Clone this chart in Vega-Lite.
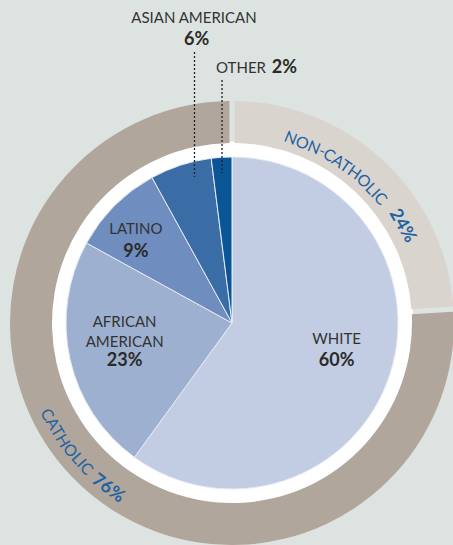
{
  "$schema": "https://vega.github.io/schema/vega-lite/v6.json",
  "width": 442,
  "height": 444,
  "autosize": "none",
  "padding": {"left": 11, "top": 101, "right": 0, "bottom": 0},
  "background": "#dde3e0",
  "config": {"view": {"stroke": null}, "font": "Lato"},
  "datasets": {
    "ring": [
      {"group": "NON-CATHOLIC", "pct": 0.24},
      {"group": "CATHOLIC", "pct": 0.76}
    ],
    "race": [
      {"group": "WHITE", "pct": 0.60},
      {"group": "AFRICAN AMERICAN", "pct": 0.23},
      {"group": "LATINO", "pct": 0.09},
      {"group": "ASIAN AMERICAN", "pct": 0.06},
      {"group": "OTHER", "pct": 0.02}
    ]
  },
  "resolve": {"scale": {"color": "independent"}},
  "layer": [
    {
      "data": {"name": "ring"},
      "mark": {"type": "arc", "outerRadius": 181, "fill": "#ffffff", "stroke": "#ffffff", "strokeWidth": 1},
      "encoding": {
        "theta": {"field": "pct", "type": "quantitative", "stack": true}
      }
    },
    {
      "data": {"name": "ring"},
      "mark": {"type": "arc", "outerRadius": 222, "innerRadius": 180, "padAngle": 0.018},
      "encoding": {
        "theta": {"field": "pct", "type": "quantitative", "stack": true},
        "order": {"field": "pct", "sort": "ascending"},
        "color": {"field": "group", "type": "nominal", "legend": null,
          "scale": {"domain": ["NON-CATHOLIC", "CATHOLIC"], "range": ["#d9d4ce", "#b0a69c"]}}
      }
    },
    {
      "data": {"name": "race"},
      "mark": {"type": "arc", "outerRadius": 166, "stroke": "#e6ebf3", "strokeWidth": 1},
      "encoding": {
        "theta": {"field": "pct", "type": "quantitative", "stack": true},
        "order": {"field": "pct", "sort": "descending"},
        "color": {"field": "group", "type": "nominal", "legend": null,
          "scale": {"domain": ["WHITE", "AFRICAN AMERICAN", "LATINO", "ASIAN AMERICAN", "OTHER"],
                    "range": ["#c2cce2", "#9eb0d0", "#6f8dbe", "#3a6ca6", "#0a5596"]}}
      }
    },
    {
      "data": {"name": "race"},
      "mark": {"type": "text", "radius": 110, "dy": -18.1, "fontSize": 15, "color": "#333333"},
      "encoding": {
        "theta": {"field": "pct", "type": "quantitative", "stack": true},
        "order": {"field": "pct", "sort": "descending"},
        "text": {"field": "group", "type": "nominal"},
        "opacity": {"condition": {"test": "datum.group === 'WHITE'", "value": 1}, "value": 0}
      }
    },
    {
      "data": {"name": "race"},
      "mark": {"type": "text", "radius": 110, "dy": 4, "fontSize": 18, "fontWeight": "bold", "color": "#2a2a2a"},
      "encoding": {
        "theta": {"field": "pct", "type": "quantitative", "stack": true},
        "order": {"field": "pct", "sort": "descending"},
        "text": {"field": "pct", "type": "quantitative", "format": ".0%"},
        "opacity": {"condition": {"test": "datum.group === 'WHITE'", "value": 1}, "value": 0}
      }
    },
    {
      "data": {"name": "race"},
      "mark": {"type": "text", "radius": 110, "dy": -25.1, "fontSize": 15, "color": "#333333", "lineBreak": " ", "lineHeight": 20.5},
      "encoding": {
        "theta": {"field": "pct", "type": "quantitative", "stack": true},
        "order": {"field": "pct", "sort": "descending"},
        "text": {"field": "group", "type": "nominal"},
        "opacity": {"condition": {"test": "datum.group === 'AFRICAN AMERICAN'", "value": 1}, "value": 0}
      }
    },
    {
      "data": {"name": "race"},
      "mark": {"type": "text", "radius": 110, "dy": 14.5, "fontSize": 18, "fontWeight": "bold", "color": "#2a2a2a"},
      "encoding": {
        "theta": {"field": "pct", "type": "quantitative", "stack": true},
        "order": {"field": "pct", "sort": "descending"},
        "text": {"field": "pct", "type": "quantitative", "format": ".0%"},
        "opacity": {"condition": {"test": "datum.group === 'AFRICAN AMERICAN'", "value": 1}, "value": 0}
      }
    },
    {
      "data": {"name": "race"},
      "mark": {"type": "text", "radius": 136, "dy": 2.1, "fontSize": 15, "color": "#333333"},
      "encoding": {
        "theta": {"field": "pct", "type": "quantitative", "stack": true},
        "order": {"field": "pct", "sort": "descending"},
        "text": {"field": "group", "type": "nominal"},
        "opacity": {"condition": {"test": "datum.group === 'LATINO'", "value": 1}, "value": 0}
      }
    },
    {
      "data": {"name": "race"},
      "mark": {"type": "text", "radius": 136, "dy": 24.7, "fontSize": 18, "fontWeight": "bold", "color": "#2a2a2a"},
      "encoding": {
        "theta": {"field": "pct", "type": "quantitative", "stack": true},
        "order": {"field": "pct", "sort": "descending"},
        "text": {"field": "pct", "type": "quantitative", "format": ".0%"},
        "opacity": {"condition": {"test": "datum.group === 'LATINO'", "value": 1}, "value": 0}
      }
    },
    {
      "data": {"name": "race"},
      "mark": {"type": "text", "radius": 307, "thetaOffset": 0.19, "fontSize": 15, "color": "#333333"},
      "encoding": {
        "theta": {"field": "pct", "type": "quantitative", "stack": true},
        "order": {"field": "pct", "sort": "descending"},
        "text": {"field": "group", "type": "nominal"},
        "opacity": {"condition": {"test": "datum.group === 'ASIAN AMERICAN'", "value": 1}, "value": 0}
      }
    },
    {
      "data": {"name": "race"},
      "mark": {"type": "text", "radius": 285, "thetaOffset": 0.19, "fontSize": 18, "fontWeight": "bold", "color": "#2a2a2a"},
      "encoding": {
        "theta": {"field": "pct", "type": "quantitative", "stack": true},
        "order": {"field": "pct", "sort": "descending"},
        "text": {"field": "pct", "type": "quantitative", "format": ".0%"},
        "opacity": {"condition": {"test": "datum.group === 'ASIAN AMERICAN'", "value": 1}, "value": 0}
      }
    },
    {
      "data": {"name": "race"},
      "mark": {"type": "text", "radius": 257, "thetaOffset": 0.1955, "align": "right", "fontSize": 15, "color": "#333333"},
      "encoding": {
        "theta": {"field": "pct", "type": "quantitative", "stack": true},
        "order": {"field": "pct", "sort": "descending"},
        "text": {"field": "group", "type": "nominal"},
        "opacity": {"condition": {"test": "datum.group === 'OTHER'", "value": 1}, "value": 0}
      }
    },
    {
      "data": {"name": "race"},
      "mark": {"type": "text", "radius": 258, "thetaOffset": 0.218, "align": "left", "fontSize": 18, "fontWeight": "bold", "color": "#2a2a2a"},
      "encoding": {
        "theta": {"field": "pct", "type": "quantitative", "stack": true},
        "order": {"field": "pct", "sort": "descending"},
        "text": {"field": "pct", "type": "quantitative", "format": ".0%"},
        "opacity": {"condition": {"test": "datum.group === 'OTHER'", "value": 1}, "value": 0}
      }
    },
    {
      "data": {"name": "ring"},
      "mark": {"type": "text", "radius": 193, "thetaOffset": -0.3665, "angle": 22.2, "fontSize": 16, "color": "#1f63a3"},
      "encoding": {
        "theta": {"field": "pct", "type": "quantitative", "stack": true},
        "order": {"field": "pct", "sort": "ascending"},
        "text": {"value": "NON-"},
        "opacity": {"condition": {"test": "datum.group === 'NON-CATHOLIC'", "value": 1}, "value": 0}
      }
    },
    {
      "data": {"name": "ring"},
      "mark": {"type": "text", "radius": 193, "thetaOffset": -0.1484, "angle": 34.7, "fontSize": 16, "color": "#1f63a3"},
      "encoding": {
        "theta": {"field": "pct", "type": "quantitative", "stack": true},
        "order": {"field": "pct", "sort": "ascending"},
        "text": {"value": "CATH"},
        "opacity": {"condition": {"test": "datum.group === 'NON-CATHOLIC'", "value": 1}, "value": 0}
      }
    },
    {
      "data": {"name": "ring"},
      "mark": {"type": "text", "radius": 193, "thetaOffset": 0.0541, "angle": 46.3, "fontSize": 16, "color": "#1f63a3"},
      "encoding": {
        "theta": {"field": "pct", "type": "quantitative", "stack": true},
        "order": {"field": "pct", "sort": "ascending"},
        "text": {"value": "OLIC"},
        "opacity": {"condition": {"test": "datum.group === 'NON-CATHOLIC'", "value": 1}, "value": 0}
      }
    },
    {
      "data": {"name": "ring"},
      "mark": {"type": "text", "radius": 196, "thetaOffset": 0.2985, "angle": 60.3, "fontSize": 18, "fontWeight": "bold", "color": "#1f63a3"},
      "encoding": {
        "theta": {"field": "pct", "type": "quantitative", "stack": true},
        "order": {"field": "pct", "sort": "ascending"},
        "text": {"field": "pct", "type": "quantitative", "format": ".0%"},
        "opacity": {"condition": {"test": "datum.group === 'NON-CATHOLIC'", "value": 1}, "value": 0}
      }
    },
    {
      "data": {"name": "ring"},
      "mark": {"type": "text", "radius": 206, "thetaOffset": 0.281, "angle": 59.3, "fontSize": 16, "color": "#1f63a3"},
      "encoding": {
        "theta": {"field": "pct", "type": "quantitative", "stack": true},
        "order": {"field": "pct", "sort": "ascending"},
        "text": {"value": "CATH"},
        "opacity": {"condition": {"test": "datum.group === 'CATHOLIC'", "value": 1}, "value": 0}
      }
    },
    {
      "data": {"name": "ring"},
      "mark": {"type": "text", "radius": 206, "thetaOffset": 0.0925, "angle": 48.5, "fontSize": 16, "color": "#1f63a3"},
      "encoding": {
        "theta": {"field": "pct", "type": "quantitative", "stack": true},
        "order": {"field": "pct", "sort": "ascending"},
        "text": {"value": "OLIC"},
        "opacity": {"condition": {"test": "datum.group === 'CATHOLIC'", "value": 1}, "value": 0}
      }
    },
    {
      "data": {"name": "ring"},
      "mark": {"type": "text", "radius": 207, "thetaOffset": -0.1117, "angle": 36.8, "fontSize": 18, "fontWeight": "bold", "color": "#1f63a3"},
      "encoding": {
        "theta": {"field": "pct", "type": "quantitative", "stack": true},
        "order": {"field": "pct", "sort": "ascending"},
        "text": {"field": "pct", "type": "quantitative", "format": ".0%"},
        "opacity": {"condition": {"test": "datum.group === 'CATHOLIC'", "value": 1}, "value": 0}
      }
    },
    {
      "data": {"values": [{}]},
      "mark": {"type": "rule", "color": "#222222", "strokeWidth": 1.3, "strokeDash": [2, 2]},
      "encoding": {
        "x": {"datum": -0.1697, "type": "quantitative", "scale": {"domain": [-1, 1], "nice": false, "zero": false}, "axis": null},
        "y": {"datum": 1.2207, "type": "quantitative", "scale": {"domain": [-1, 1], "nice": false, "zero": false}, "axis": null},
        "y2": {"datum": 0.6577}
      }
    },
    {
      "data": {"values": [{}]},
      "mark": {"type": "rule", "color": "#222222", "strokeWidth": 1.3, "strokeDash": [2, 2]},
      "encoding": {
        "x": {"datum": -0.0452, "type": "quantitative", "scale": {"domain": [-1, 1], "nice": false, "zero": false}, "axis": null},
        "y": {"datum": 1.0946, "type": "quantitative", "scale": {"domain": [-1, 1], "nice": false, "zero": false}, "axis": null},
        "y2": {"datum": 0.6757}
      }
    }
  ]
}
